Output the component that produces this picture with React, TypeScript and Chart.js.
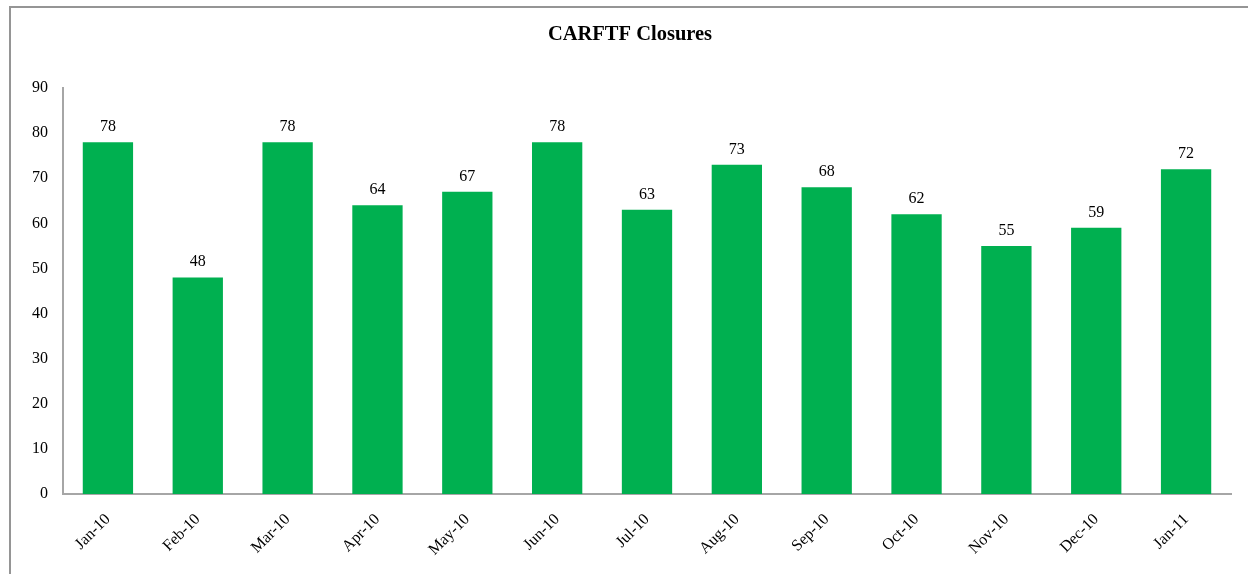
import React, { useEffect, useRef } from "react";
import { Chart, registerables } from "chart.js";

Chart.register(...registerables);

const categories = ["Jan-10", "Feb-10", "Mar-10", "Apr-10", "May-10", "Jun-10", "Jul-10", "Aug-10", "Sep-10", "Oct-10", "Nov-10", "Dec-10", "Jan-11"];
const closures = [78, 48, 78, 64, 67, 78, 63, 73, 68, 62, 55, 59, 72];
const titleText = "CARFTF Closures";
const yMin = 0;
const yMax = 90;
const yStep = 10;

const FONT = "'Liberation Serif', 'Times New Roman', serif";

const valueLabels = {
  id: "valueLabels",
  afterDatasetsDraw(chart: any) {
    const ctx = chart.ctx;
    const meta = chart.getDatasetMeta(0);
    ctx.save();
    ctx.font = `16px ${FONT}`;
    ctx.fillStyle = "#000";
    ctx.textAlign = "center";
    ctx.textBaseline = "alphabetic";
    meta.data.forEach((bar: any, i: number) => {
      ctx.fillText(String(chart.data.datasets[0].data[i]), bar.x, bar.y - 11);
    });
    ctx.restore();
  },
};

export default function App() {
  const ref = useRef<HTMLCanvasElement | null>(null);
  useEffect(() => {
    if (!ref.current) return;
    const chart = new Chart(ref.current, {
      type: "bar",
      data: {
        labels: categories,
        datasets: [
          {
            label: "Closures",
            data: closures,
            backgroundColor: "#00B050",
            borderWidth: 0,
            barPercentage: 1,
            categoryPercentage: 0.56,
          },
        ],
      },
      options: {
        animation: false,
        responsive: false,
        maintainAspectRatio: false,
        layout: { padding: { left: 29, right: 29, top: 0, bottom: 0 } },
        plugins: {
          legend: { display: false },
          tooltip: { enabled: false },
          title: {
            display: true,
            text: titleText,
            color: "#000",
            font: { family: FONT, size: 20.5, weight: "bold", lineHeight: 1.2 },
            padding: { top: 22, bottom: 41.4 },
          },
        },
        scales: {
          x: {
            grid: { display: false, drawTicks: false },
            border: { display: true, color: "#a6a6a6", width: 2 },
            ticks: {
              color: "#000",
              font: { family: FONT, size: 16 },
              minRotation: 45,
              maxRotation: 45,
              padding: 16,
            },
            afterFit(scale: any) {
              scale.height = 80;
            },
          },
          y: {
            min: yMin,
            max: yMax,
            grid: { display: false, drawTicks: false },
            border: { display: true, color: "#a6a6a6", width: 2 },
            ticks: {
              stepSize: yStep,
              color: "#000",
              font: { family: FONT, size: 16 },
              padding: 15,
            },
            afterFit(scale: any) {
              scale.width = 34;
            },
          },
        },
      },
      plugins: [valueLabels],
    });
    return () => chart.destroy();
  }, []);

  return (
    <div style={{ position: "fixed", left: 0, top: 0, width: 1248, height: 574, overflow: "hidden", background: "#fff" }}>
      <div
        style={{
          position: "absolute",
          left: 9,
          top: 6,
          width: 1300,
          height: 640,
          border: "2px solid #959595",
          boxSizing: "border-box",
        }}
      />
      <canvas ref={ref} width={1260} height={574} style={{ position: "absolute", left: 0, top: 0, width: 1260, height: 574 }} />
    </div>
  );
}
